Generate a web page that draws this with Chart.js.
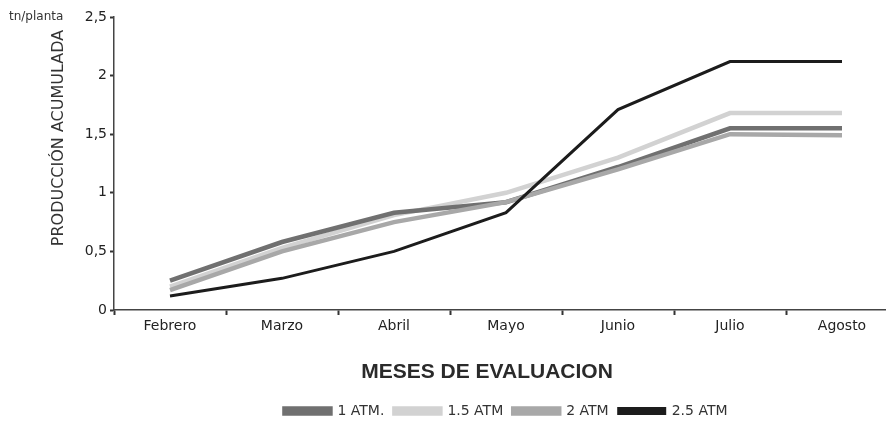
<!DOCTYPE html>
<html>
<head>
<meta charset="utf-8">
<script src="https://cdn.jsdelivr.net/npm/chart.js@4/dist/chart.umd.min.js"></script>
<style>
html,body{margin:0;padding:0;background:#fff;overflow:hidden;}
#wrap{width:900px;height:423px;}
</style>
</head>
<body>
<div id="wrap"><canvas id="c" width="900" height="423"></canvas></div>
<script>
const months = ['Febrero','Marzo','Abril','Mayo','Junio','Julio','Agosto'];
const atm1  = [0.25,0.58,0.83,0.92,1.22,1.55,1.55];
const atm15 = [0.20,0.53,0.81,1.00,1.30,1.68,1.68];
const atm2  = [0.17,0.50,0.75,0.92,1.20,1.50,1.49];
const atm25 = [0.12,0.27,0.50,0.83,1.71,2.12,2.12];
const seriesNames = ['1 ATM.','1.5 ATM','2 ATM','2.5 ATM'];
const yTickLabels = ['0','0,5','1','1,5','2','2,5'];
const yTitle = 'PRODUCCIÓN ACUMULADA';
const xTitle = 'MESES DE EVALUACION';
const unitLabel = 'tn/planta';

const FONT = "'DejaVu Sans', sans-serif";

const textPlugin = {
  id: 'texts',
  afterDraw(chart){
    const ctx = chart.ctx;
    ctx.save();
    ctx.fillStyle = '#333';
    ctx.font = "12px " + FONT;
    ctx.textAlign = 'left';
    ctx.textBaseline = 'middle';
    ctx.fillText(unitLabel, 9, 17);
    ctx.translate(59, 138);
    ctx.rotate(-Math.PI/2);
    ctx.textAlign = 'center';
    ctx.font = "16px " + FONT;
    ctx.fillText(yTitle, 0, 0);
    ctx.restore();
    ctx.save();
    ctx.fillStyle = '#2a2a2a';
    ctx.font = "bold 21px 'Liberation Sans', Arial, sans-serif";
    ctx.textAlign = 'center';
    ctx.textBaseline = 'middle';
    ctx.fillText(xTitle, 487, 372);
    ctx.restore();
  }
};

const colors = ['#707070','#d2d2d2','#a8a8a8','#1c1c1c'];
const widths = [4.5,4.5,4.5,3];
const dataArr = [atm1, atm15, atm2, atm25];
const orders = [2,3,1,0];

new Chart(document.getElementById('c'), {
  type: 'line',
  data: {
    labels: months,
    datasets: dataArr.map((d,i)=>({
      label: seriesNames[i],
      data: d,
      borderColor: colors[i],
      backgroundColor: colors[i],
      borderWidth: widths[i],
      pointRadius: 0,
      tension: 0,
      order: orders[i],
      fill: false
    }))
  },
  options: {
    responsive: false,
    animation: false,
    layout: { padding: { left: 0, right: 2, top: 17, bottom: -5 } },
    plugins: {
      tooltip: { enabled: false },
      legend: {
        position: 'bottom',
        fullSize: false,
        labels: {
          sort: (a,b)=>a.datasetIndex-b.datasetIndex,
          boxWidth: 46,
          boxHeight: 5,
          padding: 10,
          color: '#333',
          font: { family: FONT, size: 14 }
        }
      }
    },
    scales: {
      x: {
        offset: true,
        grid: { display: true, drawOnChartArea: false, offset: true, tickLength: 5, tickColor: '#333', tickWidth: 2 },
        border: { display: true, color: '#444', width: 1.5 },
        ticks: { color: '#222', padding: 3, maxRotation: 0, font: { family: FONT, size: 14 } },
        afterFit(scale){ scale.height = 84; }
      },
      y: {
        min: 0, max: 2.5,
        ticks: {
          stepSize: 0.5,
          color: '#222',
          padding: 3,
          font: { family: FONT, size: 14 },
          callback: (v, i) => yTickLabels[i]
        },
        grid: { display: true, drawOnChartArea: false, tickLength: 4, tickColor: '#333', tickWidth: 2 },
        border: { display: true, color: '#444', width: 1.5 },
        afterFit(scale){ scale.width = 114; }
      }
    }
  },
  plugins: [textPlugin]
});
</script>
</body>
</html>
